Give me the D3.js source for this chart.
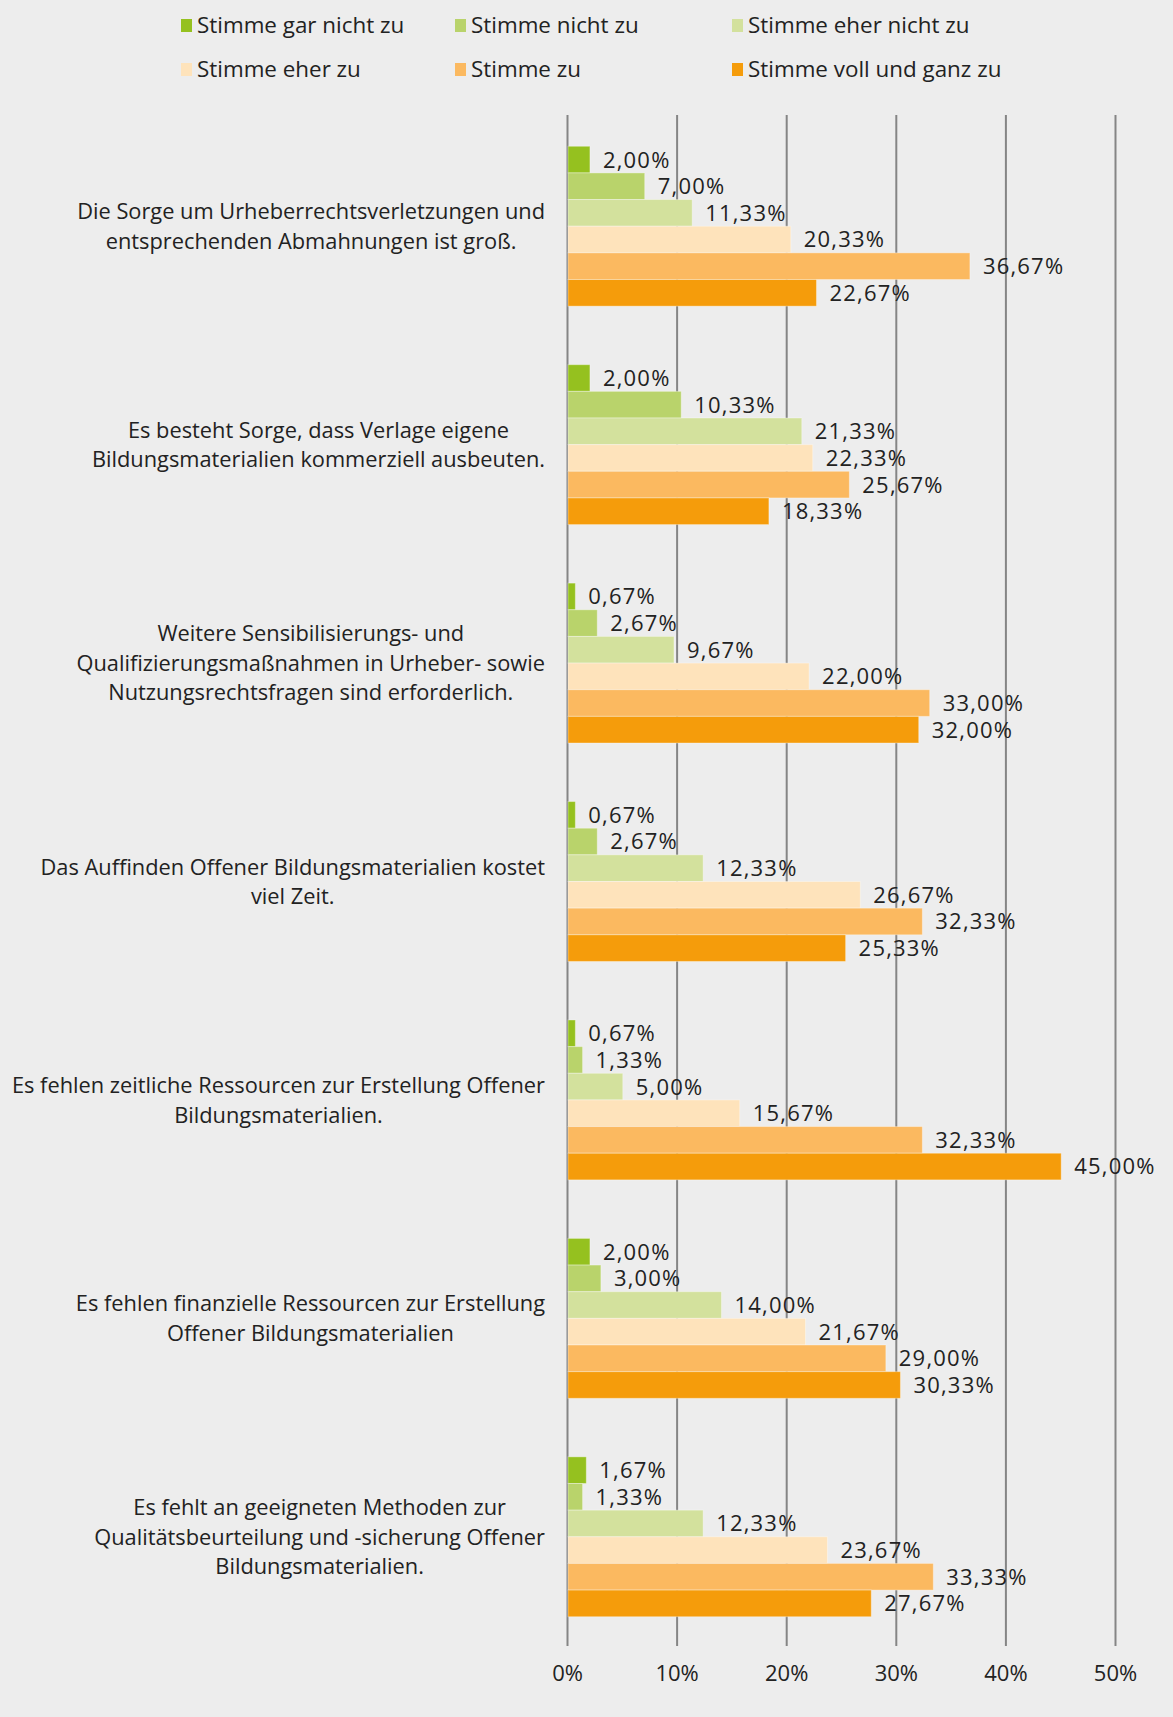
<!DOCTYPE html>
<html>
<head>
<meta charset="utf-8">
<script src="https://cdn.jsdelivr.net/npm/d3@7"></script>
<style>
	body { margin: 0; background: #ededed; }
	svg { display: block; font-family: "Open Sans", "Noto Sans", sans-serif; }
</style>
</head>
<body>
<div id="container"></div>
<script>
// categories, one line per entry as in the original chart
var categories = [
	["Die Sorge um Urheberrechtsverletzungen und", "entsprechenden Abmahnungen ist groß."],
	["Es besteht Sorge, dass Verlage eigene", "Bildungsmaterialien kommerziell ausbeuten."],
	["Weitere Sensibilisierungs- und", "Qualifizierungsmaßnahmen in Urheber- sowie", "Nutzungsrechtsfragen sind erforderlich."],
	["Das Auffinden Offener Bildungsmaterialien kostet", "viel Zeit."],
	["Es fehlen zeitliche Ressourcen zur Erstellung Offener", "Bildungsmaterialien."],
	["Es fehlen finanzielle Ressourcen zur Erstellung", "Offener Bildungsmaterialien"],
	["Es fehlt an geeigneten Methoden zur", "Qualitätsbeurteilung und -sicherung Offener", "Bildungsmaterialien."]
];

var seriesNames = ["Stimme gar nicht zu", "Stimme nicht zu", "Stimme eher nicht zu",
	"Stimme eher zu", "Stimme zu", "Stimme voll und ganz zu"];

var garNichtZu   = [2.00, 2.00, 0.67, 0.67, 0.67, 2.00, 1.67];
var nichtZu      = [7.00, 10.33, 2.67, 2.67, 1.33, 3.00, 1.33];
var eherNichtZu  = [11.33, 21.33, 9.67, 12.33, 5.00, 14.00, 12.33];
var eherZu       = [20.33, 22.33, 22.00, 26.67, 15.67, 21.67, 23.67];
var zu           = [36.67, 25.67, 33.00, 32.33, 32.33, 29.00, 33.33];
var vollUndGanz  = [22.67, 18.33, 32.00, 25.33, 45.00, 30.33, 27.67];

var tickValues = [0, 10, 20, 30, 40, 50];

var colors = ["#95c11f", "#b9d36b", "#d3e19d", "#fee3bb", "#fbb960", "#f59c0b"];

var seriesValues = [garNichtZu, nichtZu, eherNichtZu, eherZu, zu, vollUndGanz];

var w = 1173, h = 1717;
var plotLeft = 567, plotRight = 1115, plotTop = 117, plotBottom = 1646;
var textColor = "#222";

var de = d3.formatLocale({decimal: ",", thousands: ".", grouping: [3], currency: ["", "€"]});
var fmt = de.format(".2f");

var svg = d3.select("#container")
	.append("svg")
	.attr("width", w)
	.attr("height", h);

svg.append("rect").attr("width", w).attr("height", h).attr("fill", "#ededed");

var x = d3.scaleLinear().domain([0, 50]).range([plotLeft, plotRight]);

var y = d3.scaleBand()
	.domain(d3.range(categories.length))
	.range([plotTop, plotBottom])
	.paddingInner(0.268)
	.paddingOuter(0.134);

var ySub = d3.scaleBand()
	.domain(d3.range(seriesNames.length))
	.range([0, y.bandwidth()]);

// gridlines + tick labels
var xAxis = d3.axisBottom(x)
	.tickValues(tickValues)
	.tickSize(-(plotBottom - plotTop + 2))
	.tickPadding(19)
	.tickFormat(function(d){ return d + "%"; });

var axisG = svg.append("g")
	.attr("transform", "translate(0," + plotBottom + ")")
	.call(xAxis);
axisG.select(".domain").remove();
axisG.selectAll(".tick line")
	.attr("stroke", "#858585")
	.attr("stroke-width", 2);
axisG.selectAll(".tick text")
	.attr("font-size", 22)
	.attr("font-family", "'Open Sans', sans-serif")
	.attr("fill", textColor);

// bars
var groups = svg.selectAll("g.cat")
	.data(categories)
	.enter()
	.append("g")
	.attr("class", "cat")
	.attr("transform", function(d, i){ return "translate(0," + y(i) + ")"; });

groups.each(function(d, ci){
	var g = d3.select(this);
	var rows = seriesValues.map(function(arr, si){ return {s: si, v: arr[ci]}; });

	g.selectAll("rect")
		.data(rows)
		.enter()
		.append("rect")
		.attr("x", x(0) + 1)
		.attr("y", function(r){ return ySub(r.s); })
		.attr("width", function(r){ return x(r.v) - x(0); })
		.attr("height", ySub.bandwidth())
		.attr("fill", function(r){ return colors[r.s]; })
		.attr("stroke", "rgba(255,255,255,0.35)")
		.attr("stroke-width", 1);

	g.selectAll("text.val")
		.data(rows)
		.enter()
		.append("text")
		.attr("class", "val")
		.attr("x", function(r){ return x(r.v) + 14; })
		.attr("y", function(r){ return ySub(r.s) + ySub.bandwidth() / 2; })
		.attr("dy", "0.36em")
		.attr("font-size", 22)
		.attr("letter-spacing", 1.2)
		.attr("fill", textColor)
		.text(function(r){ return fmt(r.v) + "%"; });

	// category label, centred block whose widest line ends at 545
	var lineH = 29.5;
	var n = d.length;
	var lab = g.append("text")
		.attr("font-size", 21.8)
		.attr("fill", textColor)
		.attr("text-anchor", "middle");
	lab.selectAll("tspan")
		.data(d)
		.enter()
		.append("tspan")
		.attr("y", function(t, li){ return y.bandwidth() / 2 + (li - (n - 1) / 2) * lineH; })
		.attr("dy", "0.36em")
		.text(function(t){ return t; });
	var maxW = 0;
	lab.selectAll("tspan").each(function(){
		maxW = Math.max(maxW, this.getComputedTextLength());
	});
	lab.selectAll("tspan").attr("x", 545 - maxW / 2);
});

// legend
var legendX = [181, 455, 732];
var legendY = [25, 69];
var legend = svg.selectAll("g.leg")
	.data(seriesNames)
	.enter()
	.append("g")
	.attr("class", "leg")
	.attr("transform", function(d, i){
		return "translate(" + legendX[i % 3] + "," + legendY[Math.floor(i / 3)] + ")";
	});
legend.append("rect")
	.attr("x", 0)
	.attr("y", -6)
	.attr("width", 11)
	.attr("height", 13)
	.attr("fill", function(d, i){ return colors[i]; });
legend.append("text")
	.attr("x", 16)
	.attr("dy", "0.36em")
	.attr("font-size", 22.4)
	.attr("fill", textColor)
	.text(function(d){ return d; });
</script>
</body>
</html>
